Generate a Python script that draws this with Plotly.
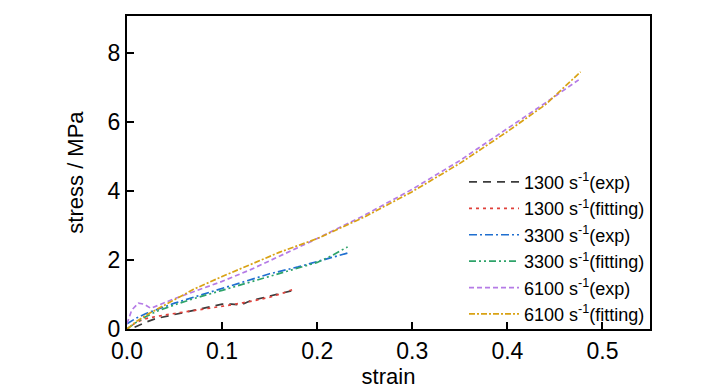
import plotly.graph_objects as go

# 1300 s-1 experiment
s1300_exp_x = [0.008, 0.012, 0.02, 0.03, 0.05, 0.07, 0.09, 0.1, 0.11, 0.12, 0.13, 0.15, 0.165, 0.175]
s1300_exp_y = [0.05, 0.1, 0.2, 0.3, 0.42, 0.52, 0.66, 0.72, 0.72, 0.7, 0.82, 0.95, 1.05, 1.12]
# 1300 s-1 fitting
s1300_fit_x = [0.0, 0.01, 0.02, 0.03, 0.05, 0.07, 0.09, 0.11, 0.13, 0.15, 0.165, 0.175]
s1300_fit_y = [0.0, 0.2, 0.3, 0.36, 0.45, 0.53, 0.62, 0.7, 0.8, 0.92, 1.05, 1.15]
# 3300 s-1 experiment
s3300_exp_x = [0.0, 0.01, 0.02, 0.03, 0.05, 0.07, 0.1, 0.13, 0.15, 0.18, 0.2, 0.215, 0.232]
s3300_exp_y = [0.15, 0.32, 0.45, 0.55, 0.75, 0.92, 1.17, 1.42, 1.6, 1.8, 1.95, 2.08, 2.2]
# 3300 s-1 fitting
s3300_fit_x = [0.0, 0.01, 0.02, 0.03, 0.05, 0.07, 0.1, 0.13, 0.15, 0.18, 0.2, 0.215, 0.232]
s3300_fit_y = [0.0, 0.2, 0.36, 0.5, 0.7, 0.88, 1.12, 1.36, 1.52, 1.75, 1.93, 2.12, 2.38]
# 6100 s-1 experiment
s6100_exp_x = [0.0, 0.005, 0.012, 0.018, 0.025, 0.035, 0.05, 0.07, 0.1, 0.13, 0.16, 0.2, 0.25, 0.3, 0.35, 0.4, 0.44, 0.475]
s6100_exp_y = [0.15, 0.55, 0.75, 0.72, 0.6, 0.72, 0.88, 1.08, 1.38, 1.72, 2.1, 2.62, 3.3, 4.05, 4.88, 5.8, 6.55, 7.22]
# 6100 s-1 fitting
s6100_fit_x = [0.0, 0.01, 0.02, 0.03, 0.05, 0.07, 0.1, 0.13, 0.16, 0.2, 0.25, 0.3, 0.35, 0.4, 0.44, 0.477]
s6100_fit_y = [0.0, 0.22, 0.4, 0.55, 0.85, 1.15, 1.52, 1.88, 2.22, 2.62, 3.25, 3.98, 4.8, 5.72, 6.5, 7.45]

names = ["1300 s<sup>-1</sup>(exp)", "1300 s<sup>-1</sup>(fitting)",
         "3300 s<sup>-1</sup>(exp)", "3300 s<sup>-1</sup>(fitting)",
         "6100 s<sup>-1</sup>(exp)", "6100 s<sup>-1</sup>(fitting)"]

series = [
    (s1300_exp_x, s1300_exp_y, "#3c3c3c", "8px,6px"),
    (s1300_fit_x, s1300_fit_y, "#e0403a", "3px,4px"),
    (s3300_exp_x, s3300_exp_y, "#1f6fd0", "8px,3px,2px,3px"),
    (s3300_fit_x, s3300_fit_y, "#2ea36a", "7px,3px,2px,3px,2px,3px"),
    (s6100_exp_x, s6100_exp_y, "#b57be6", "5px,3px"),
    (s6100_fit_x, s6100_fit_y, "#d9a214", "6px,2px,2px,2px"),
]

fig = go.Figure()
for (x, y, c, d), n in zip(series, names):
    fig.add_trace(go.Scatter(x=x, y=y, mode="lines", name=n,
                             line=dict(color=c, dash=d, width=1.7)))

font = "Liberation Sans, Arial"
axis_common = dict(showline=True, linecolor="black", linewidth=2, mirror=True,
                   ticks="inside", ticklen=7, tickwidth=2, tickcolor="black",
                   showgrid=False, zeroline=False, automargin=False,
                   tickfont=dict(size=23, color="black", family=font))

# The page body has an 8px margin, so the figure is drawn from (8, 8).
fig.update_layout(
    width=720, height=382,
    margin=dict(l=119, r=78, t=8, b=61),
    paper_bgcolor="white", plot_bgcolor="white",
    font=dict(family=font, color="black"),
    xaxis=dict(range=[0, 0.55], tickvals=[0.0, 0.1, 0.2, 0.3, 0.4, 0.5],
               ticktext=["0.0", "0.1", "0.2", "0.3", "0.4", "0.5"],
               title=dict(text="strain", font=dict(size=22, family=font), standoff=2),
               **axis_common),
    yaxis=dict(range=[0, 9.07], tickvals=[0, 2, 4, 6, 8],
               title=dict(text="stress / MPa", font=dict(size=22, family=font), standoff=18),
               **axis_common),
    legend=dict(x=1.0, y=-0.012, xanchor="right", yanchor="bottom",
                bgcolor="rgba(0,0,0,0)", font=dict(size=18, family=font, color="black"),
                itemwidth=50, tracegroupgap=0),
    showlegend=True,
)

fig.write_html("out.html")
